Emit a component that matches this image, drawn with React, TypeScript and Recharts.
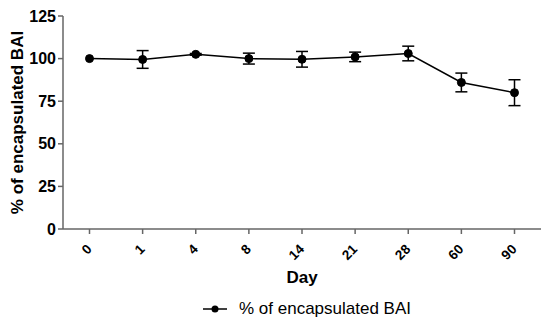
import React from "react";
import {
  LineChart,
  Line,
  XAxis,
  YAxis,
  ErrorBar,
  Label,
  Legend,
} from "recharts";

const days = ["0", "1", "4", "8", "14", "21", "28", "60", "90"];
const encapsulated = [100, 99.5, 102.5, 100, 99.6, 101, 103, 86, 80];
const sem = [0, 5.2, 0.5, 3.2, 4.6, 2.8, 4.3, 5.5, 7.6];
const yTicks = [0, 25, 50, 75, 100, 125];

const data = days.map((d, i) => ({ day: d, value: encapsulated[i], err: sem[i] }));

const FONT = "'Liberation Sans', Arial, Helvetica, sans-serif";
const AXIS = "#666";

function DayTick({ x, y, payload }: any) {
  return (
    <g transform={`translate(${x},${y})`}>
      <text
        x={3}
        y={14}
        textAnchor="end"
        transform="rotate(-45 3 14)"
        fontSize={13.5}
        fontWeight={700}
        fontFamily={FONT}
        fill="#000"
      >
        {payload.value}
      </text>
    </g>
  );
}

function YTitle({ viewBox }: any) {
  const cx = 17.5;
  const cy = viewBox.y + viewBox.height / 2;
  return (
    <text
      x={cx}
      y={cy}
      textAnchor="middle"
      dominantBaseline="central"
      transform={`rotate(-90 ${cx} ${cy})`}
      fontSize={17}
      fontWeight={700}
      fontFamily={FONT}
      fill="#000"
    >
      % of encapsulated BAI
    </text>
  );
}

function LegendBox() {
  return (
    <div style={{ display: "flex", alignItems: "center", marginLeft: 203, height: 40 }}>
      <svg width={24} height={10} style={{ marginRight: 12 }}>
        <line x1={0} y1={5} x2={24} y2={5} stroke="#000" strokeWidth={1.5} />
        <circle cx={12} cy={5} r={3.5} fill="#000" />
      </svg>
      <span style={{ fontFamily: FONT, fontSize: 17, color: "#000" }}>
        % of encapsulated BAI
      </span>
    </div>
  );
}

export default function App() {
  return (
    <div style={{ position: "absolute", left: 0, top: 0, width: 550, height: 329, background: "#fff" }}>
      <LineChart
        width={550}
        height={329}
        data={data}
        margin={{ top: 16, right: 9, left: 0, bottom: 0 }}
      >
        <XAxis
          dataKey="day"
          height={60}
          padding={{ left: 26.5, right: 26.5 }}
          tick={<DayTick />}
          tickSize={5}
          interval={0}
          stroke={AXIS}
          strokeWidth={1.5}
        >
          <Label
            value="Day"
            position="insideBottom"
            offset={6}
            style={{ fontSize: 17, fontWeight: 700, fontFamily: FONT, fill: "#000" }}
          />
        </XAxis>
        <YAxis
          width={63}
          domain={[0, 125]}
          ticks={yTicks}
          tickSize={5}
          stroke={AXIS}
          strokeWidth={1.5}
          tick={{ fontSize: 16, fontWeight: 700, fontFamily: FONT, fill: "#000" }}
        >
          <Label content={<YTitle />} />
        </YAxis>
        <Legend verticalAlign="bottom" height={40} wrapperStyle={{ left: 0, width: 550 }} content={<LegendBox />} />
        <Line
          dataKey="value"
          name="% of encapsulated BAI"
          stroke="#000"
          strokeWidth={1.5}
          dot={{ r: 4, fill: "#000", stroke: "#000", strokeWidth: 1 }}
          isAnimationActive={false}
        >
          <ErrorBar dataKey="err" width={6} stroke="#000" strokeWidth={1.5} direction="y" />
        </Line>
      </LineChart>
    </div>
  );
}
